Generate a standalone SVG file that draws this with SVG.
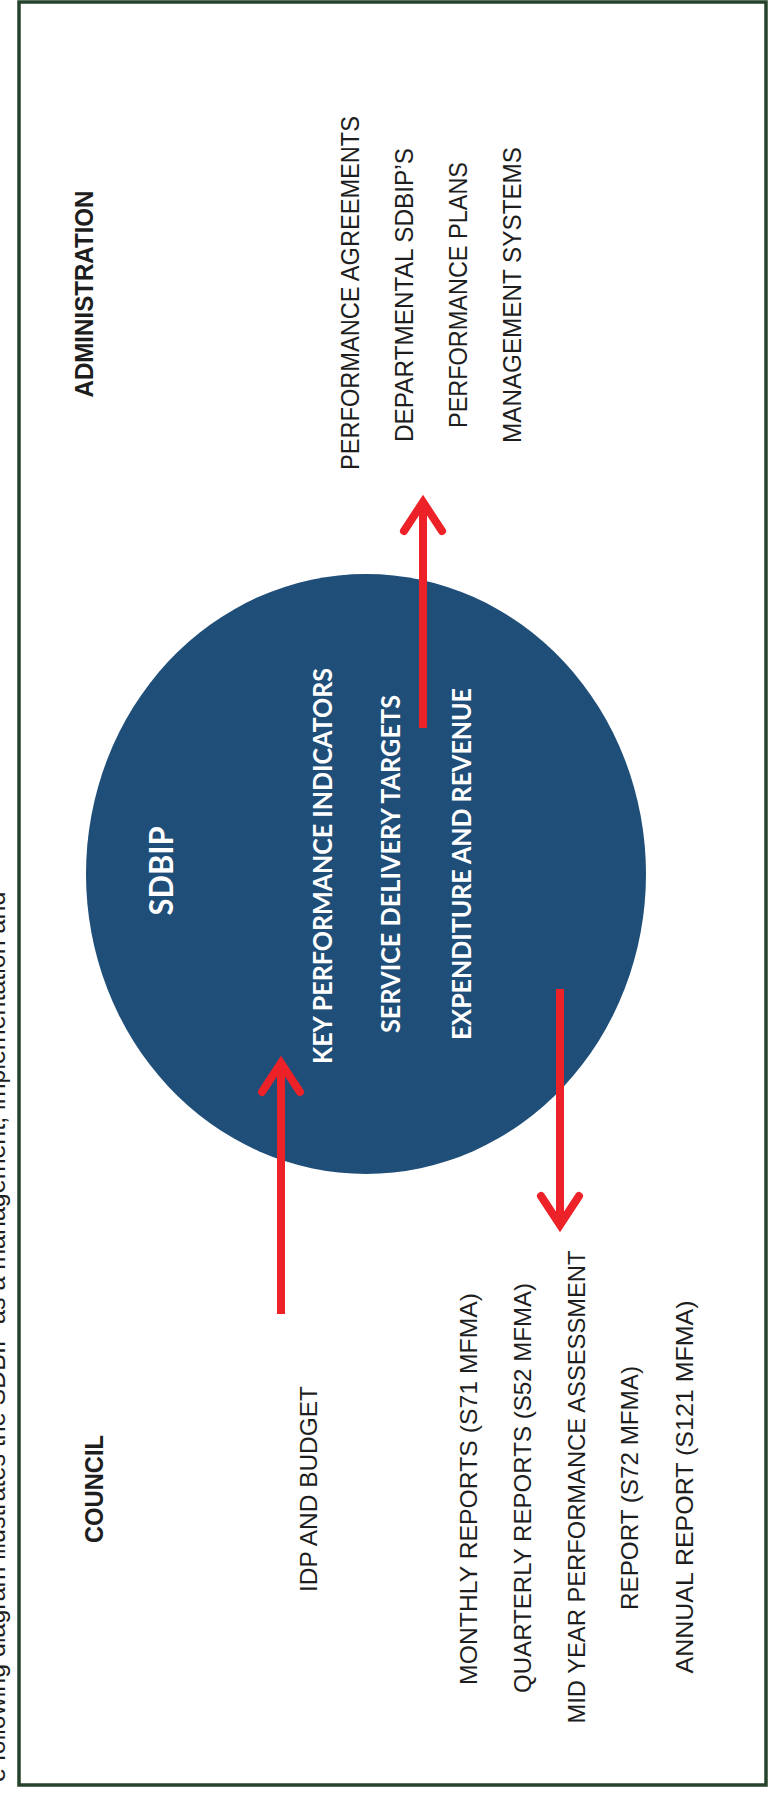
<svg xmlns="http://www.w3.org/2000/svg" width="768" height="1794" viewBox="0 0 768 1794">
  <style>
    .lbl { font-family: "Liberation Sans", Arial, sans-serif; font-size: 24px; fill: #1e1e1e; }
    .hdr { font-family: "Liberation Sans", Arial, sans-serif; font-size: 25px; font-weight: bold; fill: #1e1e1e; }
    .adm { font-family: "Liberation Sans", Arial, sans-serif; font-size: 25px; fill: #1e1e1e; }
    .in { font-family: Lato, "Open Sans", sans-serif; font-weight: bold; fill: #ffffff; font-size: 27px; }
    .title { font-family: Lato, "Open Sans", sans-serif; font-weight: bold; fill: #ffffff; font-size: 32px; }
    .cap { font-family: "Liberation Sans", Arial, sans-serif; font-size: 25px; fill: #1e1e1e; }
    .arrow { fill: none; stroke: #ec2228; stroke-width: 8; stroke-linecap: butt; }
    .head { fill: none; stroke: #ec2228; stroke-width: 8; stroke-linejoin: miter; stroke-linecap: round; }
  </style>

  <rect x="0" y="0" width="768" height="1794" fill="#ffffff"/>

  <!-- partially cut caption at left edge -->
  <text class="cap" text-anchor="start" transform="translate(5,1782) rotate(-90)">e following diagram illustrates the SDBIP as a management, implementation and</text>

  <!-- frame -->
  <rect x="19" y="2" width="747" height="1783" fill="none" stroke="#25432b" stroke-width="3.5"/>

  <!-- SDBIP circle node -->
  <g id="sdbip">
    <ellipse cx="366" cy="874" rx="280" ry="300" fill="#1f4e79"/>
    <text class="title" text-anchor="middle" textLength="89" lengthAdjust="spacingAndGlyphs" transform="translate(173,871) rotate(-90)">SDBIP</text>
    <text class="in" text-anchor="middle" textLength="396" lengthAdjust="spacingAndGlyphs" transform="translate(332,866) rotate(-90)">KEY PERFORMANCE INDICATORS</text>
    <text class="in" text-anchor="middle" textLength="338" lengthAdjust="spacingAndGlyphs" transform="translate(400,864) rotate(-90)">SERVICE DELIVERY TARGETS</text>
    <text class="in" text-anchor="middle" textLength="352" lengthAdjust="spacingAndGlyphs" transform="translate(471,864) rotate(-90)">EXPENDITURE AND REVENUE</text>
  </g>

  <!-- Council node -->
  <g id="council">
    <text class="hdr" text-anchor="middle" textLength="108" lengthAdjust="spacingAndGlyphs" transform="translate(103,1489) rotate(-90)">COUNCIL</text>
  </g>
  <g id="idp-budget">
    <text class="lbl" text-anchor="middle" textLength="206" lengthAdjust="spacingAndGlyphs" transform="translate(317,1489) rotate(-90)">IDP AND BUDGET</text>
  </g>
  <g id="council-reports">
    <text class="lbl" text-anchor="middle" textLength="392" lengthAdjust="spacingAndGlyphs" transform="translate(477,1489) rotate(-90)">MONTHLY REPORTS (S71 MFMA)</text>
    <text class="lbl" text-anchor="middle" textLength="410" lengthAdjust="spacingAndGlyphs" transform="translate(531,1488) rotate(-90)">QUARTERLY REPORTS (S52 MFMA)</text>
    <text class="lbl" text-anchor="middle" textLength="473" lengthAdjust="spacingAndGlyphs" transform="translate(585,1487) rotate(-90)">MID YEAR PERFORMANCE ASSESSMENT</text>
    <text class="lbl" text-anchor="middle" textLength="244" lengthAdjust="spacingAndGlyphs" transform="translate(638,1488) rotate(-90)">REPORT (S72 MFMA)</text>
    <text class="lbl" text-anchor="middle" textLength="373" lengthAdjust="spacingAndGlyphs" transform="translate(693,1487) rotate(-90)">ANNUAL REPORT (S121 MFMA)</text>
  </g>

  <!-- Administration node -->
  <g id="administration">
    <text class="hdr" text-anchor="middle" textLength="207" lengthAdjust="spacingAndGlyphs" transform="translate(93,294) rotate(-90)">ADMINISTRATION</text>
  </g>
  <g id="admin-items">
    <text class="adm" text-anchor="middle" textLength="354" lengthAdjust="spacingAndGlyphs" transform="translate(359,293) rotate(-90)">PERFORMANCE AGREEMENTS</text>
    <text class="adm" text-anchor="middle" textLength="294" lengthAdjust="spacingAndGlyphs" transform="translate(413,295) rotate(-90)">DEPARTMENTAL SDBIP’S</text>
    <text class="adm" text-anchor="middle" textLength="266" lengthAdjust="spacingAndGlyphs" transform="translate(467,295) rotate(-90)">PERFORMANCE PLANS</text>
    <text class="adm" text-anchor="middle" textLength="296" lengthAdjust="spacingAndGlyphs" transform="translate(521,295) rotate(-90)">MANAGEMENT SYSTEMS</text>
  </g>

  <!-- connectors -->
  <g id="connectors">
    <line class="arrow" x1="281" y1="1314" x2="281" y2="1066"/>
    <polyline class="head" points="262,1092 281,1063 300,1092"/>

    <line class="arrow" x1="423" y1="728" x2="423" y2="505"/>
    <polyline class="head" points="404,531 423,502 442,531"/>

    <line class="arrow" x1="560" y1="989" x2="560" y2="1222"/>
    <polyline class="head" points="541,1196 560,1225 579,1196"/>
  </g>
</svg>
